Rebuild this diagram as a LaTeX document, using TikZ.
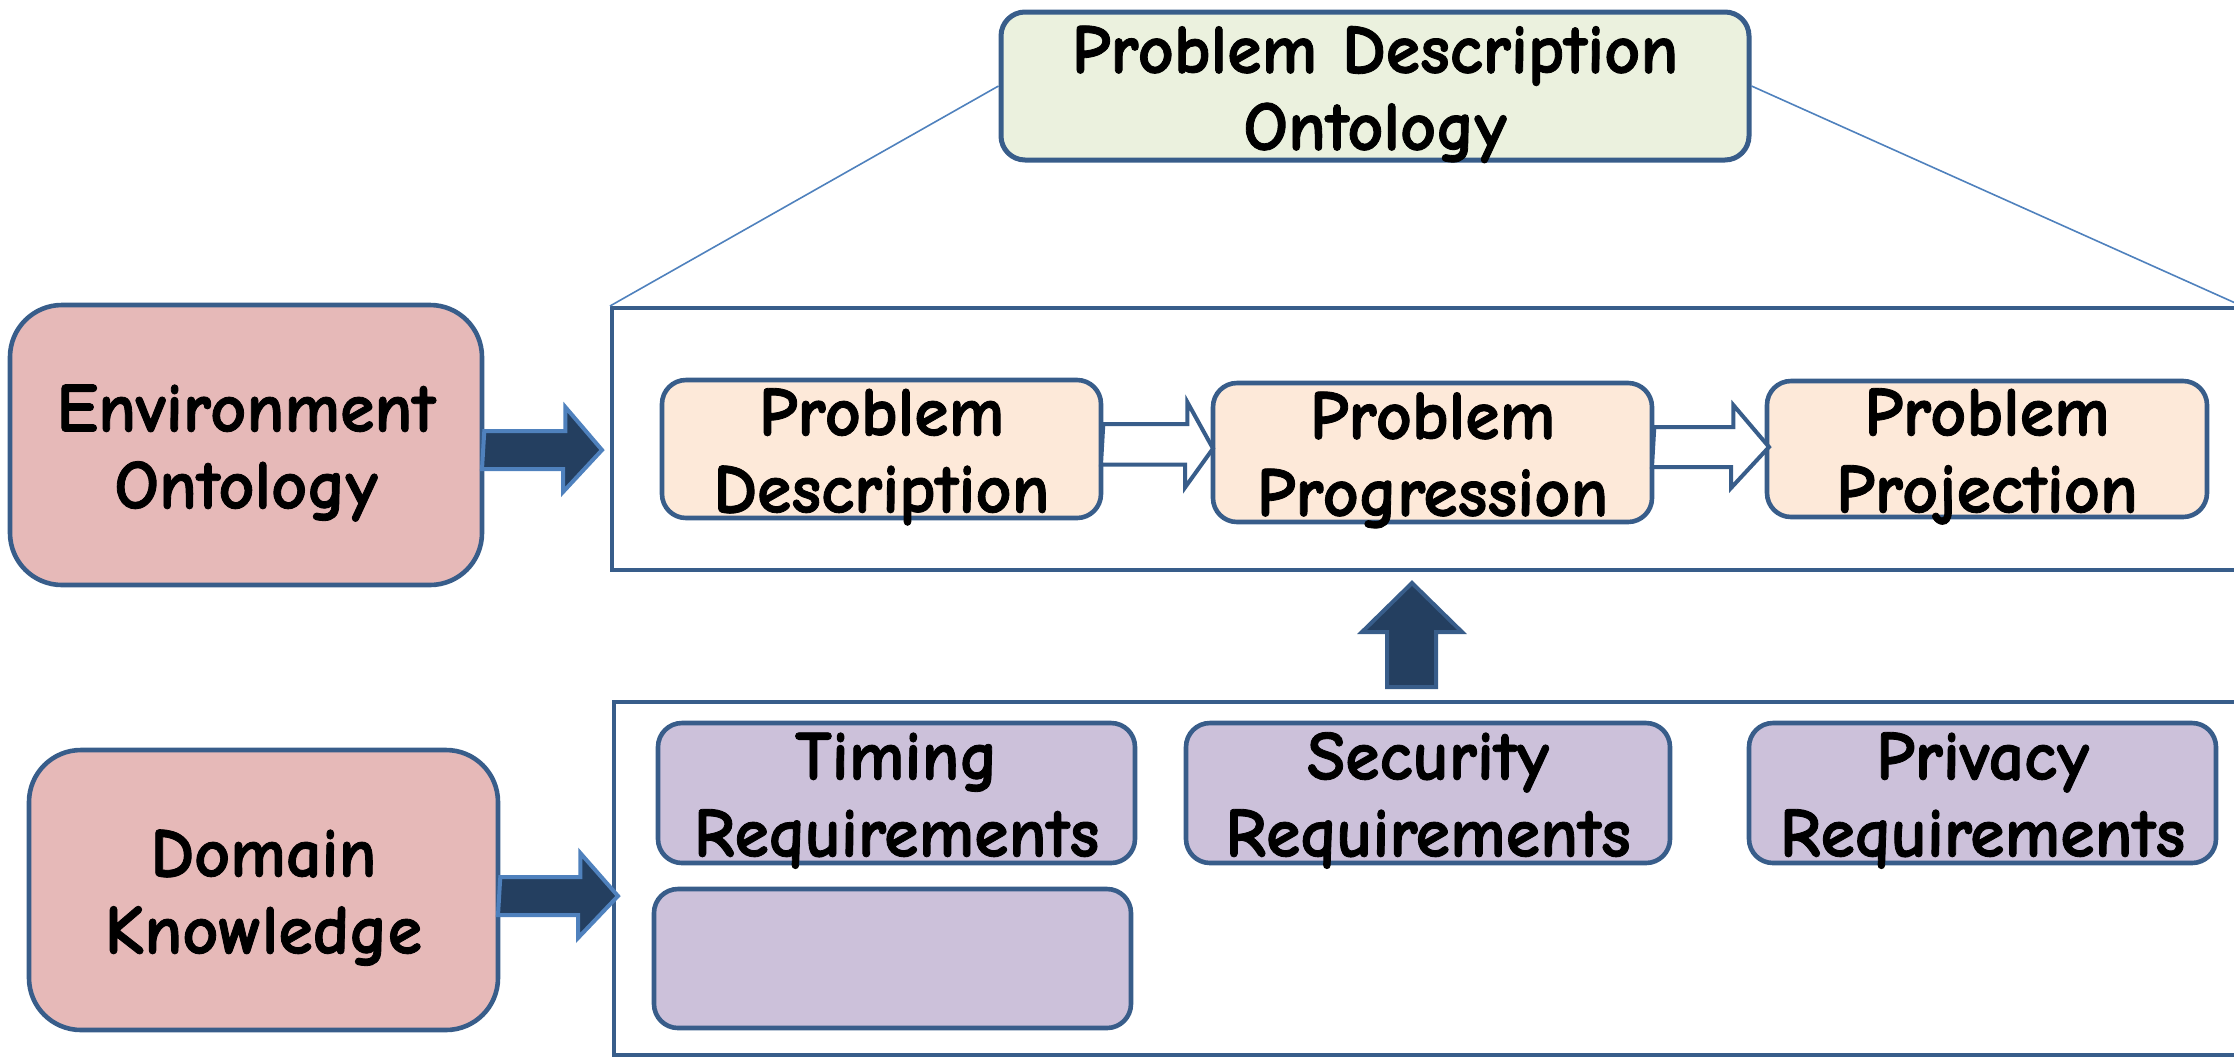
\documentclass[tikz,border=0pt]{standalone}
\usepackage{fontspec}
\usetikzlibrary{calc}
% Hand-lettered look when Comic Neue is present, a plain sans otherwise
\IfFontExistsTF{Comic Neue}%
  {\newfontfamily\diafont{Comic Neue}[BoldFeatures={FakeBold=1.2}]}%
  {\newfontfamily\diafont{DejaVu Sans}}
\newcommand\labelfont{\diafont\bfseries\fontsize{35}{38.5}\selectfont}

\definecolor{edgeblue}{HTML}{385D8A}
\definecolor{lineblue}{HTML}{4F81BD}
\definecolor{arrowfill}{HTML}{243F60}
\definecolor{rosefill}{HTML}{E6B9B8}
\definecolor{sagefill}{HTML}{EBF1DE}
\definecolor{peachfill}{HTML}{FDE9D9}
\definecolor{lilacfill}{HTML}{CCC1DA}

% two-line labels: the box runs from the cap top of line one to the last baseline
\tikzset{
  box/.style={draw=edgeblue, line width=2.3pt, rounded corners=12pt, align=center,
    inner sep=0pt, font=\labelfont, text height=63.5pt, text depth=0pt},
  rosebox/.style={box, fill=rosefill, rounded corners=26pt},
  sagebox/.style={box, fill=sagefill, line width=2.5pt, text height=64pt},
  peachbox/.style={box, fill=peachfill},
  lilacbox/.style={box, fill=lilacfill},
  framebox/.style={draw=edgeblue, line width=2pt, inner sep=0pt},
  thinline/.style={draw=lineblue, line width=0.8pt},
  darkarrow/.style={fill=arrowfill, draw=lineblue, line width=2pt, line join=miter},
  hollowarrow/.style={fill=white, draw=edgeblue, line width=2pt, line join=miter},
}

\begin{document}
\begin{tikzpicture}[x=0.5pt, y=-0.5pt]
\useasboundingbox (0,0) rectangle (2234,1057);
\clip (0,0) rectangle (2234,1057);

% ontology at the top and the two frames it opens onto
\node[sagebox, minimum width=374pt, minimum height=74pt] (top) at (1375,86)
  {Problem Description\\Ontology};
\node[framebox, minimum width=814pt, minimum height=131pt] (upper) at (1426,439) {};
\node[framebox, minimum width=813pt, minimum height=176.5pt] (lower) at (1427,878.5) {};
\draw[thinline] (top.west) -- (upper.north west);
\draw[thinline] (top.east) -- (upper.north east);

% inputs on the left
\node[rosebox, minimum width=236pt, minimum height=140pt] (env) at (246,445)
  {Environment\\Ontology};
\node[rosebox, minimum width=234.5pt, minimum height=140pt] (dom) at (263.5,890)
  {Domain\\Knowledge};

% problem stages
\node[peachbox, minimum width=219.5pt, minimum height=69pt] (pd) at (881.5,449)
  {Problem\\Description};
\node[peachbox, minimum width=219.5pt, minimum height=69.5pt] (pp) at (1432.5,452.5)
  {Problem\\Progression};
\node[peachbox, minimum width=220pt, minimum height=68pt] (pj) at (1987,449)
  {Problem\\Projection};

% requirement kinds
\node[lilacbox, minimum width=238.5pt, minimum height=70pt] (tim) at (896.5,793)
  {Timing\\Requirements};
\node[lilacbox, minimum width=242pt, minimum height=70pt] (sec) at (1428,793)
  {Security\\Requirements};
\node[lilacbox, minimum width=233.5pt, minimum height=70pt] (pri) at (1982.5,793)
  {Privacy\\Requirements};
\node[lilacbox, minimum width=238.5pt, minimum height=69.5pt] (emp) at (892.5,958.5) {};

% block arrows
\coordinate (envtip) at (602,450);
\draw[darkarrow] ($(env.east)+(0,-14)$) -- ++(81,0) -- ++(0,-24) -- (envtip)
  -- ++(-39,42) -- ++(0,-23) -- ++(-81,0) -- cycle;
\coordinate (domtip) at (618,896);
\draw[darkarrow] ($(dom.east)+(0,-13)$) -- ++(80,0) -- ++(0,-24) -- (domtip)
  -- ++(-40,42) -- ++(0,-23) -- ++(-80,0) -- cycle;

\coordinate (tipa) at (1213,448.5);
\draw[hollowarrow] ($(pd.east)+(0,-25)$) -- ++(84,0) -- ++(0,-22) -- (tipa)
  -- ++(-28,39) -- ++(0,-23) -- ++(-84,0) -- cycle;
\coordinate (tipb) at (1769,447);
\draw[hollowarrow] ($(pp.east)+(0,-25.5)$) -- ++(79,0) -- ++(0,-22) -- (tipb)
  -- ++(-38,41) -- ++(0,-21) -- ++(-79,0) -- cycle;

\coordinate (uptail) at (1411.5,687);
\coordinate (uptip) at (1412,583);
\draw[darkarrow, draw=edgeblue] ($(uptail)+(-24.5,0)$) -- ++(0,-55) -- ++(-25,0) -- (uptip)
  -- ++(50,49) -- ++(-26,0) -- ++(0,55) -- cycle;
\end{tikzpicture}
\end{document}
